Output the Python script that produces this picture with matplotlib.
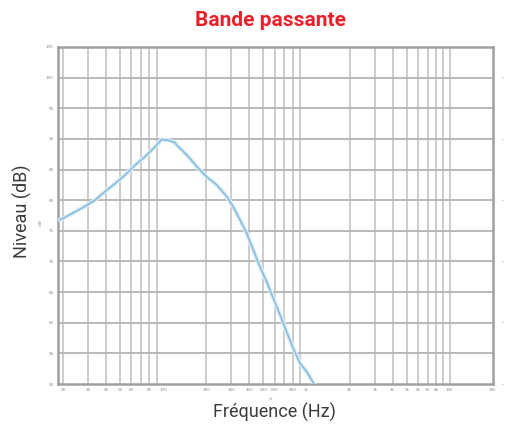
import matplotlib
matplotlib.use("Agg")
import matplotlib.pyplot as plt
from matplotlib.ticker import FixedLocator, NullLocator

# Frequency response
freq = [19.1, 20.7, 24.3, 28.6, 33.5, 39.3, 46.2, 54.2, 63.7, 74.8, 87.8, 97.8,
        108, 121, 124.5, 146, 171.6, 201.5, 236.6, 277.7, 308.8, 344, 382.8,
        425.7, 474, 528, 587, 653.6, 727.8, 809, 901, 1004, 1087, 1130]
level = [76.8, 77.2, 78.1, 79.0, 80.0, 81.4, 82.7, 84.1, 85.7, 87.1, 88.7, 89.9,
         89.8, 89.4, 89.0, 87.4, 85.5, 83.8, 82.5, 80.6, 78.9, 76.8, 74.6,
         71.9, 69.1, 66.7, 64.0, 61.3, 58.5, 55.8, 53.4, 52.0, 50.65, 50.0]

x_ticks = [20, 30, 40, 50, 60, 80, 100, 200, 300, 400, 500, 600, 800, 1000,
           2000, 3000, 4000, 5000, 6000, 7000, 8000, 10000, 20000]
x_labels = ["20", "30", "40", "50", "60", "80", "100", "200", "300", "400", "500",
            "600", "800", "1k", "2k", "3k", "4k", "5k", "6k", "7k", "8k", "10k", "20k"]
grid_x = [m * d for d in (10, 100, 1000) for m in range(2, 10)] + [10000]
y_ticks = [50, 55, 60, 65, 70, 75, 80, 85, 90, 95, 100, 105]
right_ticks = [50, 60, 70, 80, 90, 100]

fig = plt.figure(figsize=(5.06, 4.26), dpi=100)
ax = fig.add_axes([58 / 506, 1 - 384 / 426, (493 - 58) / 506, (384 - 47) / 426])

ax.set_xscale("log")
ax.set_xlim(18.5, 20000)
ax.set_ylim(50, 105)

for g in grid_x:
    ax.axvline(g, color="#c8c8c8", lw=1.3, zorder=1)
for t in y_ticks[1:-1]:
    ax.axhline(t, color="#b4b4b4", lw=1.3, zorder=1)

ax.plot(freq, level, color="#ddeff8", lw=3.2, zorder=3, solid_capstyle="round")
ax.plot(freq, level, color="#8cbfdc", lw=1.3, zorder=4)

ax.xaxis.set_major_locator(FixedLocator(x_ticks))
ax.xaxis.set_minor_locator(NullLocator())
ax.set_xticklabels(x_labels)
ax.set_yticks(y_ticks)
ax.tick_params(axis="both", length=0, labelsize=3, colors="#8a8a8a", pad=3)

for s in ax.spines.values():
    s.set_color("#a0a0a0")
    s.set_linewidth(1.8)

ax2 = ax.twinx()
ax2.set_ylim(50, 105)
ax2.set_yticks(right_ticks)
ax2.set_yticklabels(["-" for _ in right_ticks])
ax2.tick_params(length=0, labelsize=4, colors="#8a8a8a", pad=6)
for s in ax2.spines.values():
    s.set_visible(False)

ax.text(-0.04, 0.48, "(dB)", transform=ax.transAxes, rotation=90,
        fontsize=2.5, color="#8a8a8a", ha="center", va="center")
ax.text(0.49, -0.045, "Hz", transform=ax.transAxes,
        fontsize=2.5, color="#8a8a8a", ha="center", va="center")

fig.text(0.535, 0.953, "Bande passante", color="#e8202a", fontsize=15,
         fontweight="bold", family="Roboto", ha="center", va="center")
fig.text(0.045, 0.505, "Niveau (dB)", rotation=90, fontsize=13,
         color="#3c3c3c", family="Roboto", ha="center", va="center")
fig.text(0.543, 0.032, "Fréquence (Hz)", fontsize=13,
         color="#3c3c3c", family="Roboto", ha="center", va="center")

fig.savefig("out.png", dpi=100)
